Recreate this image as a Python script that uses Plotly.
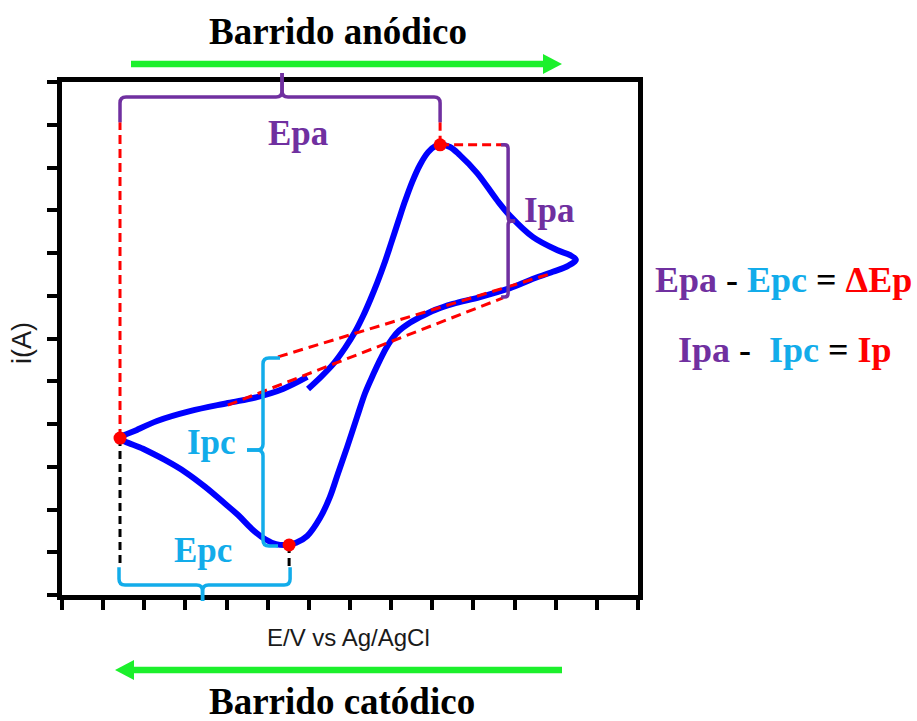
import plotly.graph_objects as go

# ---------------- data (axis units: 1 unit = 1 tick) ----------------
E_V = [5.98, 6.27, 6.59, 6.88, 7.12, 7.32, 7.49, 7.66, 7.83, 8.00, 8.17, 8.34, 8.51, 8.70, 8.90,
       9.07, 9.21, 9.43, 9.67, 10.09, 10.57, 10.89, 11.45, 12.03, 12.35, 12.49, 12.30, 11.93, 11.38,
       10.89, 10.16, 9.50, 9.07, 8.70, 8.41, 8.19, 8.02, 7.88, 7.73, 7.56, 7.37, 7.17, 6.93, 6.71,
       6.51, 6.27, 5.96, 5.69, 5.47, 5.20, 4.93, 4.62, 4.28, 3.91, 3.48, 2.99, 2.50, 1.97, 1.43,
       1.82, 2.31, 3.11, 4.03, 4.74, 5.37, 5.96]
I_A = [4.82, 5.08, 5.40, 5.78, 6.15, 6.53, 6.90, 7.30, 7.74, 8.23, 8.73, 9.22, 9.66, 10.06, 10.36,
       10.50, 10.53, 10.48, 10.29, 9.87, 9.24, 8.87, 8.37, 8.07, 7.95, 7.84, 7.70, 7.56, 7.37,
       7.18, 6.97, 6.81, 6.67, 6.50, 6.34, 6.18, 5.99, 5.78, 5.50, 5.15, 4.73, 4.16, 3.46, 2.85,
       2.29, 1.80, 1.38, 1.22, 1.17, 1.19, 1.31, 1.54, 1.87, 2.18, 2.53, 2.88, 3.16, 3.42, 3.67,
       3.86, 4.07, 4.30, 4.49, 4.63, 4.82, 5.10]

# key points (switching point, cathodic peak, anodic peak)
POINT_E = [1.41, 5.52, 9.19]
POINT_I = [3.67, 1.17, 10.53]

# baselines
BASE_ANODIC_E = [4.03, 10.72]
BASE_ANODIC_I = [4.44, 6.95]
BASE_CATHODIC_E = [5.25, 11.93]
BASE_CATHODIC_I = [5.57, 7.53]

XMAX, YMAX = 14, 12

# ---------------- layout helpers ----------------
W, H = 917, 721
PL, PR, PT, PB = 62, 638, 82, 595
PURPLE = "#7030A0"
CYAN = "#12ACEA"
RED = "#FF0000"
BLUE = "#0000FF"
GREEN = "#1CF02C"
SERIF = "Liberation Serif"
SANS = "Liberation Sans"


def p2p(px, py):
    return (px - PL) / (PR - PL), (PB - py) / (PB - PT)


def d2px(x, y):
    return PL + x / XMAX * (PR - PL), PB - y / YMAX * (PB - PT)


def rounded_path(pts, r=6):
    def P(p):
        a, b = p2p(*p)
        return f"{a:.5f},{b:.5f}"
    out = ["M " + P(pts[0])]
    for i in range(1, len(pts) - 1):
        p0, p1, p2 = pts[i - 1], pts[i], pts[i + 1]
        d1 = ((p1[0] - p0[0]) ** 2 + (p1[1] - p0[1]) ** 2) ** 0.5
        d2 = ((p2[0] - p1[0]) ** 2 + (p2[1] - p1[1]) ** 2) ** 0.5
        rr = min(r, d1 / 2, d2 / 2)
        a = (p1[0] - (p1[0] - p0[0]) * rr / d1, p1[1] - (p1[1] - p0[1]) * rr / d1)
        b = (p1[0] + (p2[0] - p1[0]) * rr / d2, p1[1] + (p2[1] - p1[1]) * rr / d2)
        out.append("L " + P(a))
        out.append("Q " + P(p1) + " " + P(b))
    out.append("L " + P(pts[-1]))
    return " ".join(out)


fig = go.Figure()

# CV curve
fig.add_trace(go.Scatter(x=E_V, y=I_A, mode="lines",
                         line=dict(color=BLUE, width=6, shape="spline", smoothing=1.0),
                         hoverinfo="skip", showlegend=False))

# baselines
for xs, ys in [(BASE_ANODIC_E, BASE_ANODIC_I), (BASE_CATHODIC_E, BASE_CATHODIC_I)]:
    fig.add_trace(go.Scatter(x=xs, y=ys, mode="lines",
                             line=dict(color=RED, width=3, dash="10px,6px"),
                             hoverinfo="skip", showlegend=False))

# guide lines
Es, Ec, Ea = POINT_E
Is, Ic, Ia = POINT_I
GUIDE_TOP = 11.06
GUIDE_BOTTOM = 0.65
IPA_BRACE_E = 10.77
red_guides = [([Es, Es], [Is, GUIDE_TOP]), ([Ea, Ea], [Ia, GUIDE_TOP]), ([Ea, IPA_BRACE_E], [Ia, Ia])]
black_guides = [([Es, Es], [Is, GUIDE_BOTTOM]), ([Ec, Ec], [Ic, GUIDE_BOTTOM])]
for xs, ys in red_guides:
    fig.add_trace(go.Scatter(x=xs, y=ys, mode="lines",
                             line=dict(color=RED, width=3, dash="9px,5px"),
                             hoverinfo="skip", showlegend=False))
for xs, ys in black_guides:
    fig.add_trace(go.Scatter(x=xs, y=ys, mode="lines",
                             line=dict(color="black", width=3, dash="8px,5px"),
                             hoverinfo="skip", showlegend=False))

# key points
fig.add_trace(go.Scatter(x=POINT_E, y=POINT_I, mode="markers",
                         marker=dict(color=RED, size=13), hoverinfo="skip", showlegend=False))

shapes = []
# braces
xs_px = d2px(Es, 0)[0]
xa_px = d2px(Ea, 0)[0]
xc_px = d2px(Ec, 0)[0]
y_top_px = d2px(0, GUIDE_TOP)[1]
y_bot_px = d2px(0, GUIDE_BOTTOM)[1]
xm = (xs_px + xa_px) / 2 + 2
epa1 = [(xs_px, y_top_px), (xs_px, 97), (xm, 97), (xm, 73)]
epa2 = [(xm, 73), (xm, 97), (xa_px, 97), (xa_px, y_top_px)]
xm2 = (xs_px + xc_px) / 2 - 2
epc1 = [(xs_px - 1, y_bot_px), (xs_px - 1, 585), (xm2, 585), (xm2, 601)]
epc2 = [(xm2, 601), (xm2, 585), (xc_px + 1, 585), (xc_px + 1, y_bot_px)]
ipa_x = d2px(IPA_BRACE_E, 0)[0] + 3
ipa_top = d2px(0, Ia)[1]
ipa1 = [(ipa_x - 7, ipa_top), (ipa_x, ipa_top), (ipa_x, 221), (ipa_x + 7, 221)]
ipa2 = [(ipa_x + 7, 221), (ipa_x, 221), (ipa_x, 297), (ipa_x - 7, 297)]
ipc_x = 263
ipc_bot = d2px(0, Ic)[1] + 1
ipc1 = [(280, 358), (ipc_x, 358), (ipc_x, 450), (247, 450)]
ipc2 = [(247, 450), (ipc_x, 450), (ipc_x, ipc_bot), (278, ipc_bot)]
for pts, col in [(epa1, PURPLE), (epa2, PURPLE), (ipa1, PURPLE), (ipa2, PURPLE),
                 (epc1, CYAN), (epc2, CYAN), (ipc1, CYAN), (ipc2, CYAN)]:
    shapes.append(dict(type="path", xref="paper", yref="paper", path=rounded_path(pts),
                       line=dict(color=col, width=3.5)))


# green arrows
def arrow(x0, x1, y, head=19, half=10, width=6.5):
    d = 1 if x1 > x0 else -1
    base = x1 - d * head
    a0 = p2p(x0, y)
    a1 = p2p(base + d * 2, y)
    shapes.append(dict(type="line", xref="paper", yref="paper", x0=a0[0], y0=a0[1], x1=a1[0], y1=a1[1],
                       line=dict(color=GREEN, width=width)))
    t1, t2, t3 = p2p(base, y - half), p2p(x1, y), p2p(base, y + half)
    shapes.append(dict(type="path", xref="paper", yref="paper",
                       path=f"M {t1[0]},{t1[1]} L {t2[0]},{t2[1]} L {t3[0]},{t3[1]} Z",
                       fillcolor=GREEN, line=dict(color=GREEN, width=0)))


arrow(131, 562, 64)
arrow(562, 115, 670)

annotations = []


def label(text, px, py, size, color="black", family=SERIF, bold=True, angle=0):
    x, y = p2p(px, py)
    annotations.append(dict(text=text, x=x, y=y, xref="paper", yref="paper",
                            xanchor="center", yanchor="middle", showarrow=False, textangle=angle,
                            font=dict(family=family, size=size, color=color,
                                      weight="bold" if bold else "normal")))


label("Barrido anódico", 338, 31, 37)
label("Barrido catódico", 342, 701, 37)
label("Epa", 298, 133, 35, PURPLE)
label("Ipa", 549, 210, 35, PURPLE)
label("Ipc", 211, 442, 35, CYAN)
label("Epc", 203, 550, 35, CYAN)
label(f'<span style="color:{PURPLE}">Epa</span> - <span style="color:{CYAN}">Epc</span> = '
      f'<span style="color:{RED}">ΔEp</span>', 783, 280, 36)
label(f'<span style="color:{PURPLE}">Ipa</span> -\u00a0\u00a0<span style="color:{CYAN}">Ipc</span> = '
      f'<span style="color:{RED}">Ip</span>', 785, 350, 36)
label("E/V vs Ag/AgCl", 348, 637, 24, "#1a1a1a", SANS, False)
label("i(A)", 22, 343, 27, "#1a1a1a", SANS, False, -90)

axis_common = dict(showgrid=False, zeroline=False, showticklabels=False, ticks="outside",
                   ticklen=10, tickwidth=4, tickcolor="black", showline=True, linewidth=5,
                   linecolor="black", mirror=True, tickmode="linear", tick0=0, dtick=1,
                   fixedrange=True)

fig.update_layout(
    width=W, height=H,
    margin=dict(l=PL, r=W - PR, t=PT, b=H - PB),
    paper_bgcolor="white", plot_bgcolor="white",
    xaxis=dict(range=[0, XMAX], **axis_common),
    yaxis=dict(range=[0, YMAX], **axis_common),
    shapes=shapes, annotations=annotations, showlegend=False,
)

fig.write_html("out.html", config={"displayModeBar": False},
               post_script="document.body.style.margin='0px';")
